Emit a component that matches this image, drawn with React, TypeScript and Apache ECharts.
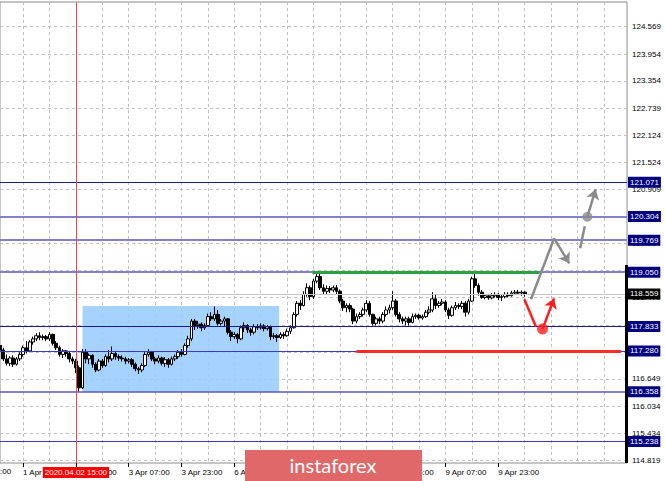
import React, { useEffect, useRef } from 'react';
import * as echarts from 'echarts';

// ---------- data ----------
const SLOTS = 191; // hourly slots shown on the time axis (incl. empty future area)
const Y_MIN = 114.759;
const Y_MAX = 125.125;

// open, high, low, close (H1 bars)
const candles: [number, number, number, number][] = [
  [117.40, 117.45, 117.22, 117.30], [117.30, 117.35, 117.05, 117.10], [117.10, 117.20, 116.95, 117.00],
  [117.00, 117.16, 116.94, 117.12], [117.12, 117.18, 116.92, 116.98], [116.98, 117.14, 116.95, 117.10],
  [117.10, 117.25, 117.05, 117.20], [117.20, 117.40, 117.15, 117.35], [117.35, 117.50, 117.22, 117.28],
  [117.28, 117.52, 117.25, 117.48], [117.48, 117.60, 117.42, 117.55], [117.55, 117.68, 117.50, 117.62],
  [117.62, 117.70, 117.52, 117.58], [117.58, 117.65, 117.52, 117.60], [117.60, 117.64, 117.50, 117.55],
  [117.55, 117.70, 117.50, 117.65], [117.65, 117.67, 117.40, 117.45], [117.45, 117.50, 117.30, 117.35],
  [117.35, 117.40, 117.15, 117.20], [117.20, 117.32, 117.12, 117.28], [117.28, 117.30, 117.15, 117.22],
  [117.22, 117.28, 117.02, 117.10], [117.10, 117.15, 116.98, 117.05], [117.05, 117.10, 116.78, 116.90],
  [116.90, 116.95, 116.36, 116.45], [116.45, 117.32, 116.42, 117.25], [117.25, 117.32, 117.00, 117.10],
  [117.10, 117.22, 116.98, 117.18], [117.18, 117.20, 116.90, 116.98], [116.98, 117.02, 116.80, 116.85],
  [116.85, 117.10, 116.82, 117.05], [117.05, 117.10, 116.90, 116.95], [116.95, 117.20, 116.92, 117.15],
  [117.15, 117.30, 117.02, 117.10], [117.10, 117.38, 117.05, 117.22], [117.22, 117.28, 117.08, 117.15],
  [117.15, 117.20, 117.05, 117.12], [117.12, 117.18, 117.04, 117.10], [117.10, 117.15, 116.98, 117.05],
  [117.05, 117.12, 117.00, 117.08], [117.08, 117.12, 116.92, 116.98], [116.98, 117.02, 116.82, 116.88],
  [116.88, 116.92, 116.76, 116.85], [116.85, 117.00, 116.80, 116.95], [116.95, 117.25, 116.92, 117.20],
  [117.20, 117.32, 117.15, 117.25], [117.25, 117.28, 117.05, 117.10], [117.10, 117.15, 116.98, 117.05],
  [117.05, 117.18, 117.00, 117.12], [117.12, 117.15, 116.95, 117.00], [117.00, 117.14, 116.92, 117.08],
  [117.08, 117.12, 116.90, 116.98], [116.98, 117.15, 116.95, 117.10], [117.10, 117.20, 117.05, 117.15],
  [117.15, 117.30, 117.10, 117.25], [117.25, 117.32, 117.15, 117.20], [117.20, 117.45, 117.18, 117.40],
  [117.40, 117.62, 117.35, 117.55], [117.55, 118.00, 117.50, 117.95], [117.95, 118.00, 117.75, 117.85],
  [117.85, 117.95, 117.78, 117.88], [117.88, 117.92, 117.72, 117.80], [117.80, 117.90, 117.75, 117.85],
  [117.85, 118.12, 117.82, 118.05], [118.05, 118.15, 117.95, 118.00], [118.00, 118.28, 117.95, 118.10],
  [118.10, 118.20, 117.85, 117.90], [117.90, 118.00, 117.85, 117.95], [117.95, 118.05, 117.82, 118.00],
  [118.00, 118.02, 117.65, 117.70], [117.70, 117.75, 117.50, 117.60], [117.60, 117.70, 117.55, 117.65],
  [117.65, 117.68, 117.45, 117.55], [117.55, 117.85, 117.52, 117.80], [117.80, 117.92, 117.70, 117.85],
  [117.85, 117.88, 117.68, 117.75], [117.75, 117.80, 117.62, 117.70], [117.70, 117.88, 117.65, 117.82],
  [117.82, 117.88, 117.75, 117.80], [117.80, 117.90, 117.76, 117.84], [117.84, 117.88, 117.72, 117.78],
  [117.78, 117.86, 117.74, 117.82], [117.82, 117.85, 117.52, 117.60], [117.60, 117.68, 117.55, 117.62],
  [117.62, 117.66, 117.48, 117.58], [117.58, 117.70, 117.55, 117.65], [117.65, 117.70, 117.55, 117.62],
  [117.62, 117.78, 117.60, 117.72], [117.72, 117.85, 117.66, 117.80], [117.80, 118.15, 117.78, 118.10],
  [118.10, 118.40, 118.05, 118.35], [118.35, 118.42, 118.20, 118.30], [118.30, 118.62, 118.28, 118.55],
  [118.55, 118.80, 118.50, 118.70], [118.70, 118.75, 118.42, 118.50], [118.50, 118.90, 118.45, 118.85],
  [118.85, 119.05, 118.80, 118.95], [118.95, 119.03, 118.65, 118.70], [118.70, 118.78, 118.55, 118.62],
  [118.62, 118.75, 118.55, 118.68], [118.68, 118.74, 118.58, 118.65], [118.65, 118.75, 118.60, 118.70],
  [118.70, 118.76, 118.56, 118.62], [118.62, 118.66, 118.35, 118.40], [118.40, 118.45, 118.18, 118.25],
  [118.25, 118.35, 118.15, 118.30], [118.30, 118.35, 118.15, 118.22], [118.22, 118.25, 117.88, 117.95],
  [117.95, 118.12, 117.90, 118.05], [118.05, 118.15, 118.00, 118.10], [118.10, 118.25, 118.05, 118.20],
  [118.20, 118.42, 118.15, 118.35], [118.35, 118.40, 118.05, 118.10], [118.10, 118.12, 117.85, 117.90],
  [117.90, 118.05, 117.85, 118.00], [118.00, 118.05, 117.88, 117.95], [117.95, 118.15, 117.90, 118.10],
  [118.10, 118.28, 118.05, 118.20], [118.20, 118.32, 118.12, 118.25], [118.25, 118.62, 118.20, 118.40],
  [118.40, 118.45, 118.05, 118.10], [118.10, 118.15, 117.92, 118.00], [118.00, 118.05, 117.88, 117.95],
  [117.95, 118.05, 117.85, 118.00], [118.00, 118.05, 117.85, 117.92], [117.92, 118.12, 117.90, 118.05],
  [118.05, 118.12, 118.00, 118.08], [118.08, 118.12, 117.98, 118.02], [118.02, 118.10, 117.98, 118.05],
  [118.05, 118.20, 118.02, 118.15], [118.15, 118.28, 118.10, 118.20], [118.20, 118.60, 118.15, 118.45],
  [118.45, 118.55, 118.22, 118.30], [118.30, 118.40, 118.25, 118.35], [118.35, 118.45, 118.30, 118.38],
  [118.38, 118.42, 118.15, 118.20], [118.20, 118.25, 118.00, 118.08], [118.08, 118.30, 118.05, 118.25],
  [118.25, 118.38, 118.20, 118.30], [118.30, 118.35, 118.22, 118.28], [118.28, 118.40, 118.22, 118.35],
  [118.35, 118.40, 118.05, 118.15], [118.15, 118.45, 118.10, 118.40], [118.40, 118.95, 118.38, 118.90],
  [118.90, 119.02, 118.70, 118.75], [118.75, 118.80, 118.52, 118.60], [118.60, 118.65, 118.45, 118.48],
  [118.48, 118.56, 118.44, 118.52], [118.52, 118.56, 118.43, 118.47], [118.47, 118.58, 118.44, 118.52],
  [118.52, 118.60, 118.48, 118.55], [118.55, 118.58, 118.42, 118.48], [118.48, 118.55, 118.40, 118.50],
  [118.50, 118.60, 118.46, 118.55], [118.55, 118.60, 118.48, 118.52], [118.52, 118.63, 118.50, 118.58],
  [118.58, 118.65, 118.55, 118.60], [118.60, 118.65, 118.54, 118.58], [118.58, 118.64, 118.52, 118.60],
  [118.60, 118.62, 118.50, 118.559],
];

// grid price levels (labels of the fully covered ones are not drawn)
const priceTicks = [114.819, 115.434, 116.034, 116.649, 117.264, 117.864, 118.479, 119.094, 119.694,
  120.309, 120.909, 121.524, 122.124, 122.739, 123.354, 123.954, 124.569];
const hiddenTickLabels = [117.264, 117.864, 119.094, 120.309];
const levels = [121.071, 120.304, 119.769, 119.050, 117.833, 117.280, 116.358, 115.238];
const currentPrice = 118.559;

// annotations in (bar index, price)
const markerBar = 23;
const markerText = '2020.04.02 15:00';
const rangeBox = { from: 25, to: 84.6, top: 118.289, bottom: 116.358 };
const resistance = { from: 94.7, to: 163.4, price: 119.05 };
const support = { from: 108, to: 188.2, price: 117.28 };
const grayPath: [number, number][] = [[160.9, 118.44], [167.9, 119.812], [172.5, 119.25]];
const grayDash: [number, number][] = [[175.8, 119.587], [177.2, 120.08]];
const grayDot: [number, number] = [178, 120.297];
const grayUp: [number, number][] = [[178, 120.297], [180.5, 120.914]];
const redPath: [number, number][] = [[158.9, 118.44], [162.4, 117.824]];
const redDot: [number, number] = [164.4, 117.77];
const redUp: [number, number][] = [[164.4, 117.77], [167.9, 118.46]];
const scaleBar = { top: 119.21 };

// time categories: H1 bars from 1 Apr 16:00, weekend skipped
function buildCategories(n: number): string[] {
  const out: string[] = [];
  let day = 1;
  let hour = 16;
  for (let i = 0; i < n; i++) {
    out.push(`${day} Apr ${String(hour).padStart(2, '0')}:00`);
    hour++;
    if (hour === 24) {
      hour = 0;
      day++;
      if (day === 4) day = 6;
    }
  }
  return out;
}
const categories = buildCategories(SLOTS);
const LAST_LABEL = 151;
const coveredTimeLabels = [87, 103]; // fully under the logo

// ---------- styles ----------
const FONT = 'Liberation Sans, Arial, sans-serif';
const GRAY = '#8a8a8a';
const RED = '#ff1e1e';
const levelStyles = [
  { color: '#1c1c8c', width: 1 },
  { color: '#8282c8', width: 2 },
  { color: '#8282c8', width: 2 },
  { color: '#8282c8', width: 2 },
  { color: '#1c1c8c', width: 1 },
  { color: '#3c3cc0', width: 1 },
  { color: '#5a5ab8', width: 1.5 },
  { color: '#3c3cc0', width: 1 },
];

const tickInterval = (i: number) => i >= 7 && (i - 7) % 16 === 0 && i <= LAST_LABEL;
const labelInterval = (i: number) => tickInterval(i) && coveredTimeLabels.indexOf(i) < 0;
const gridInterval = (i: number) => i >= 7 && (i - 7) % 8 === 0;

function buildOption(): any {
  const boxLabel = (bg: string) => ({
    show: true,
    position: 'end',
    distance: 1,
    color: '#ffffff',
    backgroundColor: bg,
    padding: [1, 2, 1, 2],
    fontSize: 8,
    lineHeight: 9,
    fontFamily: FONT,
  });

  const levelData: any[] = levels.map((v, i) => ({
    yAxis: v,
    lineStyle: { color: levelStyles[i].color, width: levelStyles[i].width, type: 'solid' },
    label: { ...boxLabel('#00007f'), formatter: v.toFixed(3) },
  }));
  levelData.push({
    yAxis: currentPrice,
    lineStyle: { color: '#c4c4c4', width: 1, type: 'solid' },
    label: { ...boxLabel('#000000'), formatter: currentPrice.toFixed(3) },
  });
  levelData.push({
    xAxis: markerBar,
    lineStyle: { color: '#ff4040', width: 1, type: 'solid' },
    label: {
      show: true,
      position: 'start',
      distance: 4,
      formatter: markerText,
      color: '#ffffff',
      backgroundColor: '#ff0000',
      padding: [1, 2, 1, 2],
      fontSize: 8,
      lineHeight: 9,
      fontFamily: FONT,
    },
  });
  const seg = (x1: number, y1: number, x2: number, y2: number, color: string, width: number) => [
    { coord: [x1, y1], lineStyle: { color, width, type: 'solid' }, label: { show: false } },
    { coord: [x2, y2], lineStyle: { color, width, type: 'solid' }, label: { show: false } },
  ];
  levelData.push(seg(resistance.from, resistance.price, resistance.to, resistance.price, '#2f9e44', 3));
  levelData.push(seg(support.from, support.price, support.to, support.price, '#ff2a2a', 3));
  levelData.push(seg(SLOTS - 1.3, scaleBar.top, SLOTS - 1.3, Y_MIN, '#000000', 3));

  const candleData = candles.map(([o, h, l, c]) => [o, c, l, h]);

  return {
    animation: false,
    backgroundColor: '#ffffff',
    grid: {
      left: 0,
      right: 38,
      top: 2,
      bottom: 18,
      show: true,
      borderColor: '#8c8c8c',
      borderWidth: 1,
      backgroundColor: 'transparent',
    },
    xAxis: [
      {
        type: 'category',
        data: categories,
        boundaryGap: false,
        axisLine: { show: false },
        axisTick: { show: true, interval: tickInterval, length: 4, lineStyle: { color: '#000000' } },
        axisLabel: {
          interval: labelInterval,
          align: 'left',
          margin: 5,
          fontSize: 8,
          color: '#000000',
          fontFamily: FONT,
        },
        splitLine: { show: true, interval: gridInterval, lineStyle: { color: '#c0c0c0', type: [3, 3], width: 1 } },
      },
      { type: 'value', min: 0, max: SLOTS - 1, show: false, splitLine: { show: false } },
    ],
    yAxis: [{ type: 'value', min: Y_MIN, max: Y_MAX, show: false, splitLine: { show: false } }],
    series: [
      {
        type: 'line',
        xAxisIndex: 1,
        data: [],
        silent: true,
        markLine: {
          silent: true,
          z: 0,
          symbol: ['none', 'none'],
          lineStyle: { color: '#c0c0c0', type: [3, 3], width: 1 },
          label: { show: true, position: 'end', distance: 5, color: '#000000', fontSize: 8, fontFamily: FONT },
          data: priceTicks.map((v) => ({
            yAxis: v,
            label: { show: hiddenTickLabels.indexOf(v) < 0, formatter: v.toFixed(3) },
          })),
        },
      },
      {
        type: 'line',
        xAxisIndex: 1,
        data: [],
        silent: true,
        markArea: {
          silent: true,
          itemStyle: { color: '#99ccff', opacity: 0.88 },
          data: [[{ coord: [rangeBox.from, rangeBox.top] }, { coord: [rangeBox.to, rangeBox.bottom] }]],
        },
      },
      {
        type: 'candlestick',
        xAxisIndex: 0,
        data: candleData,
        barWidth: 3.2,
        z: 3,
        silent: true,
        itemStyle: {
          color: '#ffffff',
          color0: '#000000',
          borderColor: '#000000',
          borderColor0: '#000000',
          borderWidth: 1,
        },
      },
      {
        type: 'line',
        xAxisIndex: 1,
        data: [],
        silent: true,
        markLine: {
          silent: true,
          z: 5,
          symbol: ['none', 'none'],
          data: levelData,
        },
      },
      {
        type: 'lines',
        coordinateSystem: 'cartesian2d',
        xAxisIndex: 1,
        yAxisIndex: 0,
        silent: true,
        z: 6,
        symbol: ['none', 'none'],
        lineStyle: { width: 2.5, opacity: 1, curveness: 0 },
        data: [
          { coords: [grayPath[0], grayPath[1]], lineStyle: { color: GRAY, width: 2.5, opacity: 1 } },
          { coords: grayDash, lineStyle: { color: GRAY, width: 2.5, opacity: 1 } },
          { coords: redPath, lineStyle: { color: RED, width: 2.5, opacity: 1 } },
        ],
      },
      {
        type: 'lines',
        coordinateSystem: 'cartesian2d',
        xAxisIndex: 1,
        yAxisIndex: 0,
        silent: true,
        z: 6,
        symbol: ['none', 'arrow'],
        symbolSize: 10,
        lineStyle: { width: 2.5, opacity: 1, curveness: 0 },
        data: [
          { coords: [grayPath[1], grayPath[2]], lineStyle: { color: GRAY, width: 2.5, opacity: 1 } },
          { coords: grayUp, lineStyle: { color: GRAY, width: 2.5, opacity: 1 } },
          { coords: redUp, lineStyle: { color: RED, width: 2.5, opacity: 1 } },
        ],
      },
      {
        type: 'scatter',
        xAxisIndex: 1,
        silent: true,
        z: 7,
        data: [
          { value: grayDot, symbolSize: 10, itemStyle: { color: GRAY } },
          { value: redDot, symbolSize: 11, itemStyle: { color: RED } },
        ],
      },
    ],
    graphic: [
      {
        type: 'text',
        x: -29.7,
        y: 467,
        z: 1,
        silent: true,
        style: { text: '1 Apr 07:00', fill: '#000000', font: `8px ${FONT}` },
      },
      {
        type: 'rect',
        x: 245,
        y: 450,
        z: 100,
        silent: true,
        shape: { width: 177, height: 31 },
        style: { fill: '#e06868' },
      },
      {
        type: 'text',
        x: 333,
        y: 465,
        z: 101,
        silent: true,
        style: {
          text: 'instaforex',
          fill: '#ffffff',
          font: '20px Lato, "Open Sans", sans-serif',
          textAlign: 'center',
          textVerticalAlign: 'middle',
          align: 'center',
          verticalAlign: 'middle',
        },
      },
    ],
  };
}

export default function App() {
  const ref = useRef<HTMLDivElement>(null);
  useEffect(() => {
    if (!ref.current) return;
    const chart = echarts.init(ref.current, null, { renderer: 'svg' });
    chart.setOption(buildOption());
    return () => chart.dispose();
  }, []);
  return (
    <div
      ref={ref}
      style={{ position: 'fixed', left: 0, top: 0, width: 665, height: 481, background: '#ffffff' }}
    />
  );
}
